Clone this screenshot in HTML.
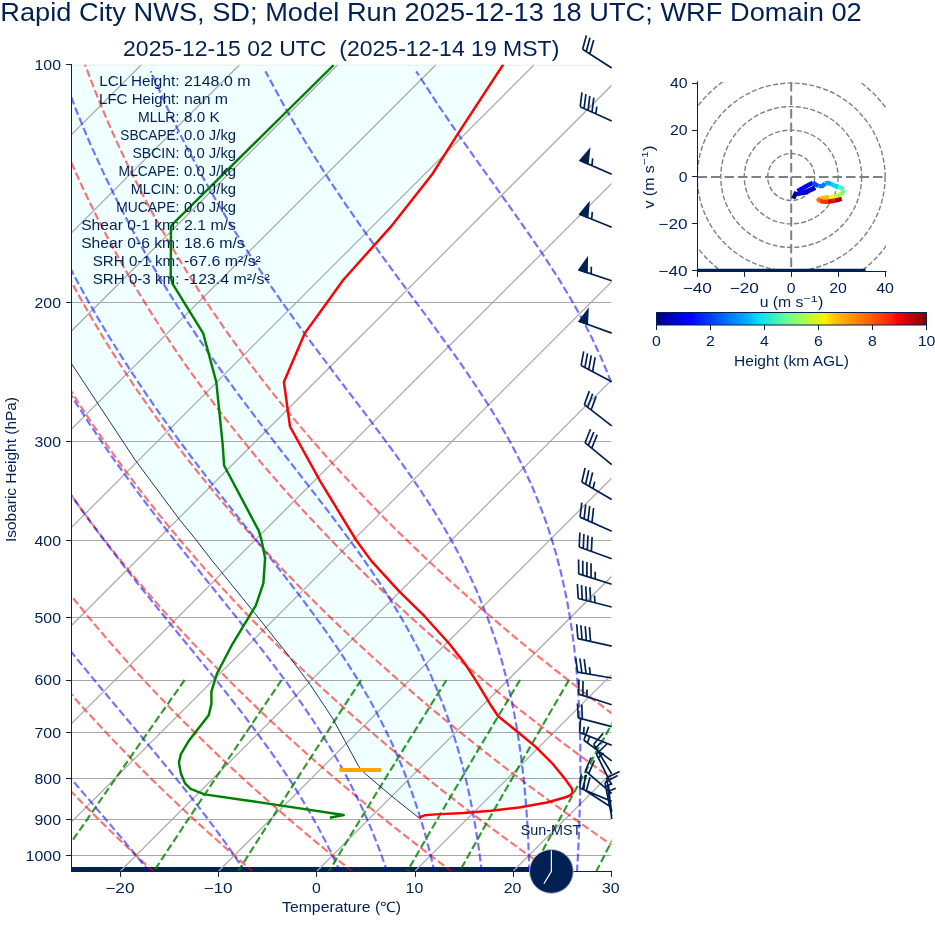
<!DOCTYPE html>
<html><head><meta charset="utf-8"><title>Skew-T</title>
<style>html,body{margin:0;padding:0;background:#fff}body{width:935px;height:936px;overflow:hidden;position:relative;font-family:"Liberation Sans",sans-serif}</style></head>
<body>
<svg width="935" height="936" viewBox="0 0 935 936" style="position:absolute;left:0;top:0;will-change:transform;font-family:'Liberation Sans',sans-serif">
<rect width="935" height="936" fill="#fff"/>
<defs><clipPath id="ax"><rect x="71.5" y="64.5" width="540.0" height="806.5"/></clipPath><linearGradient id="jet" x1="0" x2="1" y1="0" y2="0"><stop offset="0" stop-color="#000080"/><stop offset="0.11" stop-color="#0000ff"/><stop offset="0.125" stop-color="#0000ff"/><stop offset="0.34" stop-color="#00b4ff"/><stop offset="0.375" stop-color="#00e0fb"/><stop offset="0.5" stop-color="#7dff7a"/><stop offset="0.625" stop-color="#fbf100"/><stop offset="0.66" stop-color="#ffc400"/><stop offset="0.875" stop-color="#ff1e00"/><stop offset="0.89" stop-color="#ff0000"/><stop offset="1" stop-color="#800000"/></linearGradient></defs>
<g clip-path="url(#ax)">
<path d="M71.5,64.5 L503.2,64.5 L458.0,133.7 L432.4,174.0 L390.7,226.9 L343.4,279.7 L325.4,304.7 L304.7,333.4 L283.9,382.0 L290.0,426.5 L320.0,480.8 L356.0,540.0 L371.3,560.9 L399.2,591.4 L424.5,616.2 L449.5,644.0 L464.8,663.4 L477.3,682.9 L489.8,703.7 L498.2,716.3 L519.0,733.0 L535.7,746.9 L552.4,763.5 L564.9,778.8 L571.9,788.6 L572.7,792.7 L570.0,795.5 L564.9,797.5 L546.9,802.5 L519.0,807.5 L491.2,810.8 L463.4,813.0 L435.6,814.4 L424.5,815.3 L418.9,817.6 L418.9,817.8 L396.4,800.0 L380.0,786.3 L364.4,773.0 L358.8,766.6 L349.1,748.6 L332.4,718.0 L310.2,684.6 L285.1,651.2 L251.8,609.5 L211.6,560.0 L196.2,540.0 L179.6,519.7 L135.1,459.9 L71.7,364.0 L71.5,364.0Z" fill="#f0ffff"/>
<path d="M71.5,869.4 H540" stroke="#002152" stroke-width="4.8"/>
<path d="M-861.2,871.0 L-54.7,64.5 M-763.0,871.0 L43.5,64.5 M-664.9,871.0 L141.6,64.5 M-566.7,871.0 L239.8,64.5 M-468.5,871.0 L338.0,64.5 M-370.3,871.0 L436.2,64.5 M-272.1,871.0 L534.4,64.5 M-174.0,871.0 L632.5,64.5 M-75.8,871.0 L730.7,64.5 M22.4,871.0 L828.9,64.5 M120.6,871.0 L927.1,64.5 M218.8,871.0 L1025.3,64.5 M317.0,871.0 L1123.5,64.5 M415.1,871.0 L1221.6,64.5 M513.3,871.0 L1319.8,64.5 M611.5,871.0 L1418.0,64.5 M709.7,871.0 L1516.2,64.5" stroke="#ababab" stroke-width="1.25" fill="none"/>
<path d="M71.5,302.5 H611.5 M71.5,441.5 H611.5 M71.5,540.5 H611.5 M71.5,617.5 H611.5 M71.5,680.5 H611.5 M71.5,732.5 H611.5 M71.5,778.5 H611.5 M71.5,819.5 H611.5 M71.5,855.5 H611.5" stroke="#a8a8a8" stroke-width="1.15" fill="none"/>
<path d="M71.5,65 H611.5" stroke="#e6e6e6" stroke-width="1"/>
<path d="M154.2,872.3 L141.5,860.6 L129.0,848.8 L116.8,837.1 L104.8,825.4 L93.0,813.7 L81.4,802.0 L70.1,790.3 L59.0,778.6 L48.1,766.9 L37.5,755.2 L27.0,743.5 L16.8,731.8 L6.8,720.1 L-3.0,708.4 L-12.6,696.7 L-22.0,685.0 L-31.2,673.2 L-40.2,661.5 L-49.0,649.8 L-57.6,638.1 L-66.0,626.4 L-74.2,614.7 L-82.2,603.0 L-90.0,591.3 L-97.6,579.6 L-105.1,567.9 L-112.3,556.2 L-119.4,544.5 L-126.3,532.8 L-133.0,521.1 L-139.5,509.4 L-145.8,497.6 L-152.0,485.9 L-158.0,474.2 L-163.9,462.5 L-169.5,450.8 L-175.0,439.1 L-180.3,427.4 L-185.5,415.7 L-190.5,404.0 L-195.3,392.3 L-200.0,380.6 L-204.5,368.9 L-208.9,357.2 L-213.1,345.5 L-217.1,333.8 L-221.0,322.0 L-224.8,310.3 L-228.4,298.6 L-231.8,286.9 L-235.1,275.2 L-238.3,263.5 L-241.3,251.8 L-244.2,240.1 L-246.9,228.4 L-249.5,216.7 L-251.9,205.0 L-254.2,193.3 L-256.4,181.6 L-258.5,169.9 L-260.4,158.2 L-262.1,146.4 L-263.8,134.7 L-265.3,123.0 L-266.7,111.3 L-268.0,99.6 L-269.1,87.9 L-270.1,76.2 L-271.0,64.5 M253.8,872.3 L240.1,860.6 L226.7,848.8 L213.5,837.1 L200.5,825.4 L187.8,813.7 L175.4,802.0 L163.1,790.3 L151.1,778.6 L139.3,766.9 L127.8,755.2 L116.5,743.5 L105.4,731.8 L94.5,720.1 L83.8,708.4 L73.4,696.7 L63.2,685.0 L53.1,673.2 L43.3,661.5 L33.7,649.8 L24.4,638.1 L15.2,626.4 L6.2,614.7 L-2.6,603.0 L-11.2,591.3 L-19.6,579.6 L-27.8,567.9 L-35.8,556.2 L-43.6,544.5 L-51.2,532.8 L-58.6,521.1 L-65.9,509.4 L-72.9,497.6 L-79.8,485.9 L-86.5,474.2 L-93.0,462.5 L-99.4,450.8 L-105.6,439.1 L-111.6,427.4 L-117.4,415.7 L-123.1,404.0 L-128.5,392.3 L-133.9,380.6 L-139.0,368.9 L-144.0,357.2 L-148.8,345.5 L-153.5,333.8 L-158.0,322.0 L-162.4,310.3 L-166.6,298.6 L-170.6,286.9 L-174.5,275.2 L-178.3,263.5 L-181.9,251.8 L-185.3,240.1 L-188.6,228.4 L-191.8,216.7 L-194.8,205.0 L-197.6,193.3 L-200.4,181.6 L-202.9,169.9 L-205.4,158.2 L-207.7,146.4 L-209.9,134.7 L-211.9,123.0 L-213.8,111.3 L-215.6,99.6 L-217.2,87.9 L-218.8,76.2 L-220.1,64.5 M353.3,872.3 L338.7,860.6 L324.3,848.8 L310.2,837.1 L296.3,825.4 L282.7,813.7 L269.3,802.0 L256.1,790.3 L243.2,778.6 L230.5,766.9 L218.1,755.2 L205.9,743.5 L194.0,731.8 L182.2,720.1 L170.7,708.4 L159.4,696.7 L148.4,685.0 L137.5,673.2 L126.9,661.5 L116.5,649.8 L106.3,638.1 L96.3,626.4 L86.5,614.7 L77.0,603.0 L67.6,591.3 L58.5,579.6 L49.5,567.9 L40.8,556.2 L32.2,544.5 L23.9,532.8 L15.7,521.1 L7.7,509.4 L-0.0,497.6 L-7.6,485.9 L-15.0,474.2 L-22.2,462.5 L-29.3,450.8 L-36.1,439.1 L-42.8,427.4 L-49.3,415.7 L-55.6,404.0 L-61.7,392.3 L-67.7,380.6 L-73.5,368.9 L-79.1,357.2 L-84.6,345.5 L-89.9,333.8 L-95.0,322.0 L-100.0,310.3 L-104.8,298.6 L-109.4,286.9 L-113.9,275.2 L-118.3,263.5 L-122.4,251.8 L-126.5,240.1 L-130.3,228.4 L-134.0,216.7 L-137.6,205.0 L-141.0,193.3 L-144.3,181.6 L-147.4,169.9 L-150.4,158.2 L-153.3,146.4 L-156.0,134.7 L-158.5,123.0 L-160.9,111.3 L-163.2,99.6 L-165.4,87.9 L-167.4,76.2 L-169.3,64.5 M452.9,872.3 L437.3,860.6 L422.0,848.8 L406.9,837.1 L392.1,825.4 L377.5,813.7 L363.2,802.0 L349.1,790.3 L335.3,778.6 L321.8,766.9 L308.4,755.2 L295.4,743.5 L282.5,731.8 L269.9,720.1 L257.6,708.4 L245.5,696.7 L233.6,685.0 L221.9,673.2 L210.5,661.5 L199.2,649.8 L188.2,638.1 L177.5,626.4 L166.9,614.7 L156.6,603.0 L146.4,591.3 L136.5,579.6 L126.8,567.9 L117.3,556.2 L108.0,544.5 L98.9,532.8 L90.1,521.1 L81.4,509.4 L72.9,497.6 L64.6,485.9 L56.5,474.2 L48.6,462.5 L40.9,450.8 L33.3,439.1 L26.0,427.4 L18.8,415.7 L11.8,404.0 L5.0,392.3 L-1.6,380.6 L-8.0,368.9 L-14.3,357.2 L-20.4,345.5 L-26.3,333.8 L-32.0,322.0 L-37.6,310.3 L-43.0,298.6 L-48.3,286.9 L-53.3,275.2 L-58.3,263.5 L-63.0,251.8 L-67.6,240.1 L-72.0,228.4 L-76.3,216.7 L-80.5,205.0 L-84.4,193.3 L-88.3,181.6 L-91.9,169.9 L-95.4,158.2 L-98.8,146.4 L-102.0,134.7 L-105.1,123.0 L-108.1,111.3 L-110.9,99.6 L-113.5,87.9 L-116.0,76.2 L-118.4,64.5 M552.5,872.3 L535.9,860.6 L519.6,848.8 L503.6,837.1 L487.8,825.4 L472.3,813.7 L457.1,802.0 L442.1,790.3 L427.4,778.6 L413.0,766.9 L398.8,755.2 L384.8,743.5 L371.1,731.8 L357.7,720.1 L344.5,708.4 L331.5,696.7 L318.8,685.0 L306.3,673.2 L294.0,661.5 L282.0,649.8 L270.2,638.1 L258.6,626.4 L247.3,614.7 L236.2,603.0 L225.3,591.3 L214.6,579.6 L204.1,567.9 L193.9,556.2 L183.8,544.5 L174.0,532.8 L164.4,521.1 L155.0,509.4 L145.8,497.6 L136.8,485.9 L128.0,474.2 L119.4,462.5 L111.0,450.8 L102.8,439.1 L94.7,427.4 L86.9,415.7 L79.3,404.0 L71.8,392.3 L64.6,380.6 L57.5,368.9 L50.6,357.2 L43.9,345.5 L37.3,333.8 L31.0,322.0 L24.8,310.3 L18.8,298.6 L12.9,286.9 L7.3,275.2 L1.8,263.5 L-3.6,251.8 L-8.8,240.1 L-13.8,228.4 L-18.6,216.7 L-23.3,205.0 L-27.8,193.3 L-32.2,181.6 L-36.4,169.9 L-40.5,158.2 L-44.4,146.4 L-48.1,134.7 L-51.7,123.0 L-55.2,111.3 L-58.5,99.6 L-61.7,87.9 L-64.7,76.2 L-67.6,64.5 M652.0,872.3 L634.5,860.6 L617.2,848.8 L600.3,837.1 L583.6,825.4 L567.1,813.7 L551.0,802.0 L535.1,790.3 L519.5,778.6 L504.2,766.9 L489.1,755.2 L474.3,743.5 L459.7,731.8 L445.4,720.1 L431.3,708.4 L417.5,696.7 L404.0,685.0 L390.6,673.2 L377.6,661.5 L364.7,649.8 L352.1,638.1 L339.8,626.4 L327.6,614.7 L315.7,603.0 L304.1,591.3 L292.6,579.6 L281.4,567.9 L270.4,556.2 L259.6,544.5 L249.1,532.8 L238.7,521.1 L228.6,509.4 L218.7,497.6 L209.0,485.9 L199.5,474.2 L190.2,462.5 L181.1,450.8 L172.2,439.1 L163.5,427.4 L155.0,415.7 L146.7,404.0 L138.6,392.3 L130.7,380.6 L123.0,368.9 L115.5,357.2 L108.1,345.5 L101.0,333.8 L94.0,322.0 L87.2,310.3 L80.6,298.6 L74.1,286.9 L67.9,275.2 L61.8,263.5 L55.8,251.8 L50.1,240.1 L44.5,228.4 L39.1,216.7 L33.9,205.0 L28.8,193.3 L23.9,181.6 L19.1,169.9 L14.5,158.2 L10.1,146.4 L5.8,134.7 L1.7,123.0 L-2.3,111.3 L-6.1,99.6 L-9.8,87.9 L-13.3,76.2 L-16.7,64.5 M751.6,872.3 L733.1,860.6 L714.9,848.8 L697.0,837.1 L679.3,825.4 L662.0,813.7 L644.9,802.0 L628.1,790.3 L611.6,778.6 L595.4,766.9 L579.4,755.2 L563.7,743.5 L548.3,731.8 L533.1,720.1 L518.2,708.4 L503.6,696.7 L489.2,685.0 L475.0,673.2 L461.1,661.5 L447.5,649.8 L434.1,638.1 L420.9,626.4 L408.0,614.7 L395.3,603.0 L382.9,591.3 L370.7,579.6 L358.7,567.9 L347.0,556.2 L335.4,544.5 L324.2,532.8 L313.1,521.1 L302.2,509.4 L291.6,497.6 L281.2,485.9 L271.0,474.2 L261.0,462.5 L251.2,450.8 L241.7,439.1 L232.3,427.4 L223.1,415.7 L214.2,404.0 L205.4,392.3 L196.9,380.6 L188.5,368.9 L180.3,357.2 L172.4,345.5 L164.6,333.8 L157.0,322.0 L149.6,310.3 L142.3,298.6 L135.3,286.9 L128.4,275.2 L121.8,263.5 L115.3,251.8 L108.9,240.1 L102.8,228.4 L96.8,216.7 L91.0,205.0 L85.4,193.3 L79.9,181.6 L74.6,169.9 L69.5,158.2 L64.5,146.4 L59.7,134.7 L55.0,123.0 L50.5,111.3 L46.2,99.6 L42.0,87.9 L38.0,76.2 L34.1,64.5 M851.1,872.3 L831.7,860.6 L812.5,848.8 L793.6,837.1 L775.1,825.4 L756.8,813.7 L738.8,802.0 L721.1,790.3 L703.7,778.6 L686.6,766.9 L669.7,755.2 L653.2,743.5 L636.9,731.8 L620.8,720.1 L605.1,708.4 L589.6,696.7 L574.4,685.0 L559.4,673.2 L544.7,661.5 L530.2,649.8 L516.0,638.1 L502.1,626.4 L488.4,614.7 L474.9,603.0 L461.7,591.3 L448.7,579.6 L436.0,567.9 L423.5,556.2 L411.3,544.5 L399.2,532.8 L387.4,521.1 L375.9,509.4 L364.5,497.6 L353.4,485.9 L342.5,474.2 L331.8,462.5 L321.3,450.8 L311.1,439.1 L301.1,427.4 L291.2,415.7 L281.6,404.0 L272.2,392.3 L263.0,380.6 L254.0,368.9 L245.2,357.2 L236.6,345.5 L228.2,333.8 L220.0,322.0 L212.0,310.3 L204.1,298.6 L196.5,286.9 L189.0,275.2 L181.8,263.5 L174.7,251.8 L167.8,240.1 L161.1,228.4 L154.5,216.7 L148.2,205.0 L142.0,193.3 L136.0,181.6 L130.1,169.9 L124.5,158.2 L118.9,146.4 L113.6,134.7 L108.4,123.0 L103.4,111.3 L98.6,99.6 L93.9,87.9 L89.4,76.2 L85.0,64.5" stroke="#ff0000" stroke-opacity="0.55" stroke-width="2.2" stroke-dasharray="7.7,3.3" fill="none"/>
<path d="M149.7,872.3 L146.5,868.3 L143.3,864.3 L140.0,860.3 L136.7,856.2 L133.2,852.0 L129.8,847.9 L126.2,843.6 L122.7,839.3 L119.0,835.0 L115.3,830.6 L111.5,826.1 L107.7,821.6 L103.8,817.0 L99.9,812.4 L95.8,807.7 L91.8,802.9 L87.6,798.0 L83.4,793.1 L79.2,788.2 L74.8,783.1 L70.5,778.0 L66.0,772.8 L61.5,767.5 L57.0,762.1 L52.3,756.7 L47.7,751.1 L42.9,745.5 L38.1,739.8 L33.3,734.0 L28.4,728.0 L23.4,722.0 L18.4,715.9 L13.3,709.6 L8.2,703.3 L3.0,696.8 L-2.3,690.2 L-7.6,683.4 L-12.9,676.6 L-18.3,669.6 L-23.8,662.4 L-29.3,655.1 L-34.9,647.6 L-40.5,640.0 L-46.2,632.2 L-51.9,624.2 L-57.7,616.0 L-63.5,607.6 L-69.4,599.0 L-75.3,590.2 L-81.3,581.2 L-87.3,571.9 L-93.4,562.4 L-99.5,552.5 L-105.7,542.4 L-111.9,532.0 L-118.2,521.3 L-124.5,510.2 L-130.8,498.8 L-137.2,486.9 L-143.7,474.6 L-150.2,461.9 L-156.7,448.7 L-163.2,435.0 L-169.8,420.6 L-176.4,405.7 L-183.0,390.1 L-189.7,373.7 L-196.3,356.5 L-202.9,338.5 L-209.5,319.4 L-216.0,299.2 L-222.4,277.7 L-228.8,254.8 L-234.9,230.2 L-240.9,203.8 L-246.5,175.1 L-251.8,143.9 L-256.5,109.5 L-260.4,71.3 M245.5,872.3 L242.9,868.3 L240.3,864.3 L237.5,860.3 L234.7,856.2 L231.9,852.0 L229.0,847.9 L226.0,843.6 L222.9,839.3 L219.7,835.0 L216.5,830.6 L213.2,826.1 L209.8,821.6 L206.4,817.0 L202.8,812.4 L199.2,807.7 L195.5,802.9 L191.7,798.0 L187.8,793.1 L183.9,788.2 L179.8,783.1 L175.7,778.0 L171.4,772.8 L167.1,767.5 L162.7,762.1 L158.2,756.7 L153.6,751.1 L148.9,745.5 L144.1,739.8 L139.3,734.0 L134.3,728.0 L129.3,722.0 L124.1,715.9 L118.9,709.6 L113.6,703.3 L108.2,696.8 L102.7,690.2 L97.1,683.4 L91.4,676.6 L85.7,669.6 L79.8,662.4 L73.9,655.1 L67.9,647.6 L61.8,640.0 L55.7,632.2 L49.4,624.2 L43.1,616.0 L36.7,607.6 L30.2,599.0 L23.6,590.2 L17.0,581.2 L10.3,571.9 L3.5,562.4 L-3.4,552.5 L-10.3,542.4 L-17.3,532.0 L-24.4,521.3 L-31.5,510.2 L-38.7,498.8 L-46.0,486.9 L-53.4,474.6 L-60.8,461.9 L-68.3,448.7 L-75.8,435.0 L-83.4,420.6 L-91.1,405.7 L-98.8,390.1 L-106.6,373.7 L-114.4,356.5 L-122.2,338.5 L-130.1,319.4 L-137.9,299.2 L-145.7,277.7 L-153.5,254.8 L-161.2,230.2 L-168.8,203.8 L-176.1,175.1 L-183.2,143.9 L-189.8,109.5 L-195.8,71.3 M340.2,872.3 L338.4,868.3 L336.6,864.3 L334.7,860.3 L332.8,856.2 L330.8,852.0 L328.7,847.9 L326.6,843.6 L324.4,839.3 L322.1,835.0 L319.8,830.6 L317.4,826.1 L314.9,821.6 L312.3,817.0 L309.7,812.4 L307.0,807.7 L304.1,802.9 L301.2,798.0 L298.2,793.1 L295.1,788.2 L291.9,783.1 L288.6,778.0 L285.1,772.8 L281.6,767.5 L277.9,762.1 L274.2,756.7 L270.3,751.1 L266.3,745.5 L262.1,739.8 L257.9,734.0 L253.5,728.0 L248.9,722.0 L244.3,715.9 L239.5,709.6 L234.5,703.3 L229.4,696.8 L224.2,690.2 L218.8,683.4 L213.3,676.6 L207.6,669.6 L201.8,662.4 L195.9,655.1 L189.8,647.6 L183.5,640.0 L177.1,632.2 L170.6,624.2 L164.0,616.0 L157.1,607.6 L150.2,599.0 L143.1,590.2 L135.9,581.2 L128.6,571.9 L121.1,562.4 L113.5,552.5 L105.8,542.4 L98.0,532.0 L90.0,521.3 L82.0,510.2 L73.8,498.8 L65.5,486.9 L57.1,474.6 L48.5,461.9 L39.9,448.7 L31.2,435.0 L22.3,420.6 L13.4,405.7 L4.3,390.1 L-4.8,373.7 L-14.1,356.5 L-23.4,338.5 L-32.8,319.4 L-42.2,299.2 L-51.8,277.7 L-61.3,254.8 L-70.9,230.2 L-80.4,203.8 L-89.8,175.1 L-99.1,143.9 L-108.1,109.5 L-116.6,71.3 M387.3,872.3 L386.0,868.3 L384.7,864.3 L383.2,860.3 L381.8,856.2 L380.3,852.0 L378.7,847.9 L377.1,843.6 L375.4,839.3 L373.7,835.0 L371.9,830.6 L370.1,826.1 L368.1,821.6 L366.1,817.0 L364.1,812.4 L361.9,807.7 L359.7,802.9 L357.4,798.0 L355.0,793.1 L352.5,788.2 L349.9,783.1 L347.3,778.0 L344.5,772.8 L341.6,767.5 L338.6,762.1 L335.5,756.7 L332.2,751.1 L328.9,745.5 L325.4,739.8 L321.8,734.0 L318.0,728.0 L314.1,722.0 L310.0,715.9 L305.8,709.6 L301.5,703.3 L296.9,696.8 L292.2,690.2 L287.4,683.4 L282.3,676.6 L277.1,669.6 L271.7,662.4 L266.1,655.1 L260.3,647.6 L254.4,640.0 L248.2,632.2 L241.9,624.2 L235.4,616.0 L228.6,607.6 L221.7,599.0 L214.6,590.2 L207.3,581.2 L199.9,571.9 L192.2,562.4 L184.4,552.5 L176.4,542.4 L168.2,532.0 L159.8,521.3 L151.3,510.2 L142.7,498.8 L133.8,486.9 L124.9,474.6 L115.7,461.9 L106.4,448.7 L97.0,435.0 L87.4,420.6 L77.7,405.7 L67.9,390.1 L57.9,373.7 L47.8,356.5 L37.6,338.5 L27.2,319.4 L16.8,299.2 L6.2,277.7 L-4.4,254.8 L-15.1,230.2 L-25.9,203.8 L-36.6,175.1 L-47.2,143.9 L-57.7,109.5 L-67.8,71.3 M434.5,872.3 L433.6,868.3 L432.7,864.3 L431.8,860.3 L430.8,856.2 L429.8,852.0 L428.7,847.9 L427.6,843.6 L426.5,839.3 L425.3,835.0 L424.1,830.6 L422.8,826.1 L421.4,821.6 L420.0,817.0 L418.6,812.4 L417.1,807.7 L415.5,802.9 L413.8,798.0 L412.1,793.1 L410.3,788.2 L408.5,783.1 L406.5,778.0 L404.5,772.8 L402.4,767.5 L400.1,762.1 L397.8,756.7 L395.4,751.1 L392.9,745.5 L390.2,739.8 L387.4,734.0 L384.5,728.0 L381.5,722.0 L378.3,715.9 L375.0,709.6 L371.5,703.3 L367.9,696.8 L364.0,690.2 L360.1,683.4 L355.9,676.6 L351.5,669.6 L346.9,662.4 L342.1,655.1 L337.1,647.6 L331.9,640.0 L326.4,632.2 L320.7,624.2 L314.8,616.0 L308.6,607.6 L302.2,599.0 L295.5,590.2 L288.5,581.2 L281.3,571.9 L273.8,562.4 L266.0,552.5 L258.0,542.4 L249.8,532.0 L241.3,521.3 L232.5,510.2 L223.5,498.8 L214.3,486.9 L204.8,474.6 L195.1,461.9 L185.2,448.7 L175.1,435.0 L164.7,420.6 L154.2,405.7 L143.5,390.1 L132.6,373.7 L121.5,356.5 L110.2,338.5 L98.7,319.4 L87.1,299.2 L75.3,277.7 L63.4,254.8 L51.3,230.2 L39.1,203.8 L26.9,175.1 L14.6,143.9 L2.4,109.5 L-9.6,71.3 M481.8,872.3 L481.4,868.3 L480.9,864.3 L480.4,860.3 L479.8,856.2 L479.3,852.0 L478.7,847.9 L478.1,843.6 L477.4,839.3 L476.7,835.0 L476.0,830.6 L475.3,826.1 L474.5,821.6 L473.7,817.0 L472.8,812.4 L471.9,807.7 L471.0,802.9 L470.0,798.0 L469.0,793.1 L467.9,788.2 L466.7,783.1 L465.5,778.0 L464.2,772.8 L462.9,767.5 L461.5,762.1 L460.0,756.7 L458.5,751.1 L456.8,745.5 L455.1,739.8 L453.3,734.0 L451.3,728.0 L449.3,722.0 L447.1,715.9 L444.9,709.6 L442.5,703.3 L439.9,696.8 L437.3,690.2 L434.4,683.4 L431.4,676.6 L428.3,669.6 L424.9,662.4 L421.4,655.1 L417.6,647.6 L413.6,640.0 L409.4,632.2 L405.0,624.2 L400.2,616.0 L395.2,607.6 L389.9,599.0 L384.3,590.2 L378.4,581.2 L372.2,571.9 L365.6,562.4 L358.7,552.5 L351.4,542.4 L343.7,532.0 L335.7,521.3 L327.3,510.2 L318.5,498.8 L309.3,486.9 L299.8,474.6 L289.9,461.9 L279.6,448.7 L269.0,435.0 L258.1,420.6 L246.8,405.7 L235.2,390.1 L223.3,373.7 L211.1,356.5 L198.7,338.5 L185.9,319.4 L172.9,299.2 L159.7,277.7 L146.2,254.8 L132.5,230.2 L118.6,203.8 L104.5,175.1 L90.2,143.9 L75.9,109.5 L61.6,71.3 M529.3,872.3 L529.2,868.3 L529.1,864.3 L529.0,860.3 L528.8,856.2 L528.7,852.0 L528.5,847.9 L528.4,843.6 L528.2,839.3 L527.9,835.0 L527.7,830.6 L527.5,826.1 L527.2,821.6 L526.9,817.0 L526.6,812.4 L526.2,807.7 L525.9,802.9 L525.5,798.0 L525.0,793.1 L524.6,788.2 L524.1,783.1 L523.6,778.0 L523.0,772.8 L522.4,767.5 L521.7,762.1 L521.1,756.7 L520.3,751.1 L519.5,745.5 L518.7,739.8 L517.7,734.0 L516.8,728.0 L515.7,722.0 L514.6,715.9 L513.4,709.6 L512.1,703.3 L510.7,696.8 L509.2,690.2 L507.7,683.4 L505.9,676.6 L504.1,669.6 L502.2,662.4 L500.1,655.1 L497.8,647.6 L495.4,640.0 L492.7,632.2 L489.9,624.2 L486.9,616.0 L483.6,607.6 L480.1,599.0 L476.4,590.2 L472.3,581.2 L467.9,571.9 L463.1,562.4 L458.0,552.5 L452.5,542.4 L446.6,532.0 L440.3,521.3 L433.4,510.2 L426.1,498.8 L418.2,486.9 L409.8,474.6 L400.8,461.9 L391.2,448.7 L381.1,435.0 L370.4,420.6 L359.1,405.7 L347.2,390.1 L334.7,373.7 L321.8,356.5 L308.3,338.5 L294.3,319.4 L279.9,299.2 L265.0,277.7 L249.8,254.8 L234.1,230.2 L218.0,203.8 L201.6,175.1 L184.9,143.9 L168.0,109.5 L150.8,71.3 M577.0,872.3 L577.2,868.3 L577.4,864.3 L577.7,860.3 L577.9,856.2 L578.1,852.0 L578.3,847.9 L578.5,843.6 L578.7,839.3 L578.9,835.0 L579.0,830.6 L579.2,826.1 L579.4,821.6 L579.5,817.0 L579.7,812.4 L579.8,807.7 L579.9,802.9 L580.0,798.0 L580.1,793.1 L580.2,788.2 L580.3,783.1 L580.3,778.0 L580.4,772.8 L580.4,767.5 L580.4,762.1 L580.4,756.7 L580.3,751.1 L580.3,745.5 L580.2,739.8 L580.0,734.0 L579.9,728.0 L579.7,722.0 L579.4,715.9 L579.2,709.6 L578.9,703.3 L578.5,696.8 L578.1,690.2 L577.6,683.4 L577.1,676.6 L576.5,669.6 L575.8,662.4 L575.0,655.1 L574.2,647.6 L573.2,640.0 L572.2,632.2 L571.0,624.2 L569.7,616.0 L568.3,607.6 L566.7,599.0 L564.9,590.2 L562.9,581.2 L560.8,571.9 L558.3,562.4 L555.7,552.5 L552.7,542.4 L549.4,532.0 L545.8,521.3 L541.7,510.2 L537.2,498.8 L532.3,486.9 L526.7,474.6 L520.6,461.9 L513.8,448.7 L506.3,435.0 L498.0,420.6 L488.8,405.7 L478.7,390.1 L467.7,373.7 L455.7,356.5 L442.7,338.5 L428.8,319.4 L413.8,299.2 L397.9,277.7 L381.2,254.8 L363.6,230.2 L345.2,203.8 L326.2,175.1 L306.5,143.9 L286.2,109.5 L265.4,71.3 M624.9,872.3 L625.4,868.3 L625.9,864.3 L626.4,860.3 L626.9,856.2 L627.4,852.0 L627.9,847.9 L628.4,843.6 L628.9,839.3 L629.4,835.0 L630.0,830.6 L630.5,826.1 L631.0,821.6 L631.5,817.0 L632.0,812.4 L632.6,807.7 L633.1,802.9 L633.6,798.0 L634.1,793.1 L634.7,788.2 L635.2,783.1 L635.7,778.0 L636.2,772.8 L636.8,767.5 L637.3,762.1 L637.8,756.7 L638.3,751.1 L638.8,745.5 L639.3,739.8 L639.8,734.0 L640.3,728.0 L640.8,722.0 L641.3,715.9 L641.8,709.6 L642.2,703.3 L642.7,696.8 L643.1,690.2 L643.5,683.4 L643.9,676.6 L644.3,669.6 L644.6,662.4 L645.0,655.1 L645.2,647.6 L645.5,640.0 L645.7,632.2 L645.9,624.2 L646.0,616.0 L646.1,607.6 L646.0,599.0 L646.0,590.2 L645.8,581.2 L645.5,571.9 L645.2,562.4 L644.7,552.5 L644.1,542.4 L643.3,532.0 L642.3,521.3 L641.2,510.2 L639.8,498.8 L638.1,486.9 L636.1,474.6 L633.7,461.9 L630.9,448.7 L627.7,435.0 L623.8,420.6 L619.3,405.7 L614.0,390.1 L607.8,373.7 L600.6,356.5 L592.2,338.5 L582.4,319.4 L571.0,299.2 L558.0,277.7 L543.1,254.8 L526.3,230.2 L507.7,203.8 L487.2,175.1 L464.9,143.9 L441.2,109.5 L416.1,71.3" stroke="#0000ff" stroke-opacity="0.55" stroke-width="2.2" stroke-dasharray="7.7,3.3" fill="none"/>
<path d="M184.6,680.0 L178.5,688.8 L172.4,697.3 L166.6,705.7 L160.8,713.8 L155.2,721.8 L149.8,729.6 L144.5,737.2 L139.2,744.6 L134.1,751.9 L129.2,759.0 L124.3,766.0 L119.5,772.9 L114.8,779.6 L110.2,786.2 L105.7,792.6 L101.3,799.0 L97.0,805.2 L92.7,811.3 L88.6,817.3 L84.5,823.2 L80.5,829.0 L76.5,834.7 L72.6,840.4 L68.8,845.9 L65.0,851.3 L61.3,856.7 L57.7,862.0 L54.1,867.1 L50.6,872.3 M281.6,680.0 L275.7,688.8 L269.9,697.3 L264.2,705.7 L258.7,713.8 L253.4,721.8 L248.2,729.6 L243.0,737.2 L238.0,744.6 L233.2,751.9 L228.4,759.0 L223.7,766.0 L219.1,772.9 L214.7,779.6 L210.3,786.2 L206.0,792.6 L201.7,799.0 L197.6,805.2 L193.5,811.3 L189.5,817.3 L185.6,823.2 L181.8,829.0 L178.0,834.7 L174.3,840.4 L170.6,845.9 L167.0,851.3 L163.5,856.7 L160.0,862.0 L156.6,867.1 L153.2,872.3 M361.1,680.0 L355.4,688.8 L349.8,697.3 L344.4,705.7 L339.1,713.8 L333.9,721.8 L328.9,729.6 L323.9,737.2 L319.1,744.6 L314.4,751.9 L309.8,759.0 L305.3,766.0 L300.9,772.9 L296.6,779.6 L292.4,786.2 L288.2,792.6 L284.2,799.0 L280.2,805.2 L276.3,811.3 L272.5,817.3 L268.7,823.2 L265.0,829.0 L261.4,834.7 L257.8,840.4 L254.3,845.9 L250.8,851.3 L247.4,856.7 L244.1,862.0 L240.8,867.1 L237.6,872.3 M446.5,680.0 L441.0,688.8 L435.6,697.3 L430.4,705.7 L425.4,713.8 L420.4,721.8 L415.6,729.6 L410.9,737.2 L406.3,744.6 L401.8,751.9 L397.4,759.0 L393.1,766.0 L388.8,772.9 L384.7,779.6 L380.7,786.2 L376.7,792.6 L372.8,799.0 L369.0,805.2 L365.3,811.3 L361.6,817.3 L358.0,823.2 L354.5,829.0 L351.0,834.7 L347.6,840.4 L344.3,845.9 L341.0,851.3 L337.8,856.7 L334.6,862.0 L331.5,867.1 L328.4,872.3 M520.0,680.0 L514.7,688.8 L509.6,697.3 L504.6,705.7 L499.7,713.8 L494.9,721.8 L490.3,729.6 L485.8,737.2 L481.3,744.6 L477.0,751.9 L472.8,759.0 L468.7,766.0 L464.6,772.9 L460.7,779.6 L456.8,786.2 L453.0,792.6 L449.3,799.0 L445.6,805.2 L442.1,811.3 L438.6,817.3 L435.1,823.2 L431.7,829.0 L428.4,834.7 L425.1,840.4 L421.9,845.9 L418.8,851.3 L415.7,856.7 L412.7,862.0 L409.7,867.1 L406.7,872.3 M569.0,680.0 L563.9,688.8 L558.9,697.3 L554.1,705.7 L549.3,713.8 L544.7,721.8 L540.2,729.6 L535.8,737.2 L531.5,744.6 L527.3,751.9 L523.2,759.0 L519.2,766.0 L515.3,772.9 L511.4,779.6 L507.7,786.2 L504.0,792.6 L500.4,799.0 L496.8,805.2 L493.4,811.3 L490.0,817.3 L486.6,823.2 L483.3,829.0 L480.1,834.7 L477.0,840.4 L473.9,845.9 L470.8,851.3 L467.8,856.7 L464.9,862.0 L462.0,867.1 L459.1,872.3 M636.4,680.0 L631.5,688.8 L626.7,697.3 L622.0,705.7 L617.4,713.8 L613.0,721.8 L608.7,729.6 L604.5,737.2 L600.3,744.6 L596.3,751.9 L592.4,759.0 L588.6,766.0 L584.8,772.9 L581.1,779.6 L577.5,786.2 L574.0,792.6 L570.5,799.0 L567.2,805.2 L563.8,811.3 L560.6,817.3 L557.4,823.2 L554.3,829.0 L551.2,834.7 L548.2,840.4 L545.2,845.9 L542.3,851.3 L539.4,856.7 L536.6,862.0 L533.8,867.1 L531.1,872.3 M696.8,680.0 L692.1,688.8 L687.5,697.3 L683.0,705.7 L678.6,713.8 L674.4,721.8 L670.2,729.6 L666.2,737.2 L662.2,744.6 L658.3,751.9 L654.6,759.0 L650.9,766.0 L647.3,772.9 L643.7,779.6 L640.3,786.2 L636.9,792.6 L633.6,799.0 L630.4,805.2 L627.2,811.3 L624.1,817.3 L621.0,823.2 L618.0,829.0 L615.1,834.7 L612.2,840.4 L609.3,845.9 L606.5,851.3 L603.8,856.7 L601.1,862.0 L598.5,867.1 L595.9,872.3 M741.0,680.0 L736.4,688.8 L731.9,697.3 L727.5,705.7 L723.3,713.8 L719.1,721.8 L715.1,729.6 L711.2,737.2 L707.4,744.6 L703.6,751.9 L700.0,759.0 L696.4,766.0 L692.9,772.9 L689.5,779.6 L686.1,786.2 L682.9,792.6 L679.7,799.0 L676.5,805.2 L673.5,811.3 L670.4,817.3 L667.5,823.2 L664.6,829.0 L661.7,834.7 L658.9,840.4 L656.2,845.9 L653.5,851.3 L650.9,856.7 L648.3,862.0 L645.7,867.1 L643.2,872.3" stroke="#008000" stroke-opacity="0.8" stroke-width="2.2" stroke-dasharray="7.7,3.3" fill="none"/>
<path d="M71.7,364.0 L135.1,459.9 L179.6,519.7 L196.2,540.0 L211.6,560.0 L251.8,609.5 L285.1,651.2 L310.2,684.6 L332.4,718.0 L349.1,748.6 L358.8,766.6 L364.4,773.0 L380.0,786.3 L396.4,800.0 L418.9,817.8" stroke="#002152" stroke-width="0.9" fill="none"/>
<path d="M503.2,64.5 L458.0,133.7 L432.4,174.0 L390.7,226.9 L343.4,279.7 L325.4,304.7 L304.7,333.4 L283.9,382.0 L290.0,426.5 L320.0,480.8 L356.0,540.0 L371.3,560.9 L399.2,591.4 L424.5,616.2 L449.5,644.0 L464.8,663.4 L477.3,682.9 L489.8,703.7 L498.2,716.3 L519.0,733.0 L535.7,746.9 L552.4,763.5 L564.9,778.8 L571.9,788.6 L572.7,792.7 L570.0,795.5 L564.9,797.5 L546.9,802.5 L519.0,807.5 L491.2,810.8 L463.4,813.0 L435.6,814.4 L424.5,815.3 L418.9,817.6" stroke="#ff0000" stroke-width="2.45" fill="none" stroke-linejoin="round"/>
<path d="M333.7,65.0 L260.0,137.9 L172.6,224.1 L171.0,226.5 L170.7,276.9 L172.6,283.9 L203.2,333.4 L216.3,382.0 L222.7,444.6 L224.1,465.5 L258.8,530.8 L261.5,540.0 L265.1,558.1 L263.4,583.1 L255.9,605.4 L232.3,644.3 L217.0,673.5 L211.4,691.6 L211.4,704.1 L208.7,715.2 L189.2,740.2 L180.9,754.1 L178.9,762.5 L180.9,773.6 L185.0,783.3 L190.6,788.9 L204.5,794.4 L243.4,800.0 L270.0,803.9 L343.7,815.0 L329.8,817.8" stroke="#008000" stroke-width="2.45" fill="none" stroke-linejoin="round"/>
<path d="M339.4,770 H381.1" stroke="#ffa500" stroke-width="4"/>
</g>
<path d="M71.5,64.0 V872.0 M71.0,871.5 H612.0" stroke="#002152" stroke-width="1" fill="none"/>
<path d="M120.5,872.0 v4.9 M218.5,872.0 v4.9 M316.5,872.0 v4.9 M415.5,872.0 v4.9 M513.5,872.0 v4.9 M611.5,872.0 v4.9 M71.0,64.5 h-4.9 M71.0,302.5 h-4.9 M71.0,441.5 h-4.9 M71.0,540.5 h-4.9 M71.0,617.5 h-4.9 M71.0,680.5 h-4.9 M71.0,732.5 h-4.9 M71.0,778.5 h-4.9 M71.0,819.5 h-4.9 M71.0,855.5 h-4.9" stroke="#002152" stroke-width="1" fill="none"/>
<path d="M611.7,68.0 L582.6,49.3 M582.6,49.3 L586.4,35.4 M586.2,51.7 L590.0,37.7 M589.8,54.0 L593.7,40.0 M611.7,121.0 L580.2,106.7 M580.2,106.7 L582.0,92.3 M584.1,108.5 L585.9,94.1 M588.1,110.3 L589.8,95.9 M592.0,112.1 L593.8,97.7 M595.9,113.9 L596.8,106.7 M611.7,174.3 L580.0,160.4 M591.9,165.6 L592.7,158.4 M611.7,227.3 L579.7,214.2 M591.7,219.1 L592.3,211.9 M611.7,280.8 L578.9,269.9 M591.2,274.0 L591.3,266.7 M611.7,333.1 L579.2,321.3 M611.7,381.7 L581.1,365.6 M581.1,365.6 L583.7,351.4 M584.9,367.6 L587.5,353.4 M588.7,369.6 L591.3,355.4 M592.6,371.7 L595.1,357.4 M611.7,425.8 L584.3,404.7 M584.3,404.7 L589.3,391.1 M587.7,407.3 L592.7,393.7 M591.1,410.0 L596.1,396.4 M611.7,464.7 L585.0,442.7 M585.0,442.7 L590.5,429.2 M588.4,445.4 L593.8,432.0 M591.7,448.2 L597.2,434.7 M611.7,499.6 L581.8,482.1 M581.8,482.1 L585.1,468.0 M585.6,484.3 L588.8,470.2 M589.3,486.5 L592.6,472.4 M593.0,488.7 L594.7,481.6 M611.7,531.2 L580.1,517.1 M580.1,517.1 L581.8,502.7 M584.1,518.9 L585.7,504.5 M588.0,520.6 L589.7,506.2 M592.0,522.4 L593.6,508.0 M611.7,558.8 L579.2,547.0 M579.2,547.0 L579.9,532.5 M583.3,548.4 L583.9,534.0 M587.3,549.9 L588.0,535.4 M591.4,551.4 L592.1,536.9 M611.7,584.2 L578.7,573.9 M578.7,573.9 L578.6,559.4 M582.8,575.2 L582.8,560.7 M586.9,576.5 L586.9,562.0 M591.1,577.8 L591.0,563.3 M595.2,579.1 L595.2,571.8 M611.7,607.0 L578.2,598.5 M578.2,598.5 L577.4,584.0 M582.3,599.6 L581.5,585.1 M586.5,600.6 L585.7,586.2 M590.7,601.7 L589.9,587.2 M594.9,602.8 L594.5,595.5 M611.7,646.2 L577.9,638.7 M577.9,638.7 L576.7,624.2 M582.1,639.6 L580.9,625.2 M586.4,640.6 L585.2,626.1 M590.6,641.5 L589.4,627.1 M611.7,678.0 L577.6,672.2 M577.6,672.2 L575.7,657.8 M581.9,672.9 L579.9,658.5 M586.1,673.6 L584.2,659.2 M590.4,674.3 L589.4,667.2 M611.7,704.7 L578.7,694.1 M578.7,694.1 L578.9,679.6 M582.9,695.5 L583.0,681.0 M587.0,696.8 L587.0,689.5 M611.7,726.6 L578.2,717.9 M578.2,717.9 L577.5,703.4 M582.4,719.0 L581.7,704.5 M611.7,745.2 L579.6,732.4 M579.6,732.4 L580.7,717.9 M583.6,734.0 L584.1,726.8 M611.7,760.9 L583.9,740.3 M583.9,740.3 L588.7,726.6 M587.4,742.9 L589.8,736.0 M611.7,773.8 L593.7,744.3 M593.7,744.3 L603.2,733.4 M595.9,748.0 L600.7,742.5 M611.7,785.0 L596.4,754.0 M596.4,754.0 L606.9,744.0 M598.3,757.9 L603.5,752.9 M611.7,793.3 L585.4,770.8 M585.4,770.8 L591.1,757.5 M588.7,773.6 L594.4,760.3 M611.7,801.4 L579.8,788.0 M579.8,788.0 L581.2,773.6 M583.8,789.7 L585.2,775.2 M611.7,807.5 L582.6,788.8 M582.6,788.8 L586.4,774.8 M586.2,791.2 L590.0,777.2 M611.7,812.0 L606.6,777.8 M606.6,777.8 L619.6,771.5 M611.7,816.5 L604.9,782.6 M604.9,782.6 L617.6,775.6 M605.7,786.8 L612.1,783.3 M611.7,819.0 L608.5,784.6 M609.1,791.0 L615.8,788.2" stroke="#002152" stroke-width="1.7" fill="none" stroke-linecap="butt"/>
<path d="M580.0,160.4 L589.5,149.5 L587.9,163.9Z M579.7,214.2 L588.9,203.1 L587.7,217.5Z M578.9,269.9 L587.3,258.1 L587.1,272.6Z M579.2,321.3 L588.0,309.7 L587.3,324.2Z" stroke="#002152" stroke-width="1.5" fill="#002152" stroke-linejoin="miter"/>
<circle cx="551.4" cy="871.4" r="21.9" fill="#002152" stroke="#b8c0cc" stroke-width="1"/>
<path d="M551.4,850.4 V871.4 L543.9,883.7" stroke="#fff" stroke-width="1.2" fill="none"/>
<text x="431.0" y="20.6" font-size="25.75" text-anchor="middle" textLength="861.4" lengthAdjust="spacingAndGlyphs" fill="#002152">Rapid City NWS, SD; Model Run 2025-12-13 18 UTC; WRF Domain 02</text>
<text x="341.2" y="55.5" font-size="21.45" text-anchor="middle" textLength="436.3" lengthAdjust="spacingAndGlyphs" fill="#002152" xml:space="preserve">2025-12-15 02 UTC  (2025-12-14 19 MST)</text>
<text x="61.0" y="69.7" font-size="14.31" text-anchor="end" textLength="26.5" lengthAdjust="spacingAndGlyphs" fill="#002152">100</text>
<text x="61.0" y="307.8" font-size="14.31" text-anchor="end" textLength="26.5" lengthAdjust="spacingAndGlyphs" fill="#002152">200</text>
<text x="61.0" y="447.1" font-size="14.31" text-anchor="end" textLength="26.5" lengthAdjust="spacingAndGlyphs" fill="#002152">300</text>
<text x="61.0" y="545.9" font-size="14.31" text-anchor="end" textLength="26.5" lengthAdjust="spacingAndGlyphs" fill="#002152">400</text>
<text x="61.0" y="622.6" font-size="14.31" text-anchor="end" textLength="26.5" lengthAdjust="spacingAndGlyphs" fill="#002152">500</text>
<text x="61.0" y="685.2" font-size="14.31" text-anchor="end" textLength="26.5" lengthAdjust="spacingAndGlyphs" fill="#002152">600</text>
<text x="61.0" y="738.2" font-size="14.31" text-anchor="end" textLength="26.5" lengthAdjust="spacingAndGlyphs" fill="#002152">700</text>
<text x="61.0" y="784.0" font-size="14.31" text-anchor="end" textLength="26.5" lengthAdjust="spacingAndGlyphs" fill="#002152">800</text>
<text x="61.0" y="824.5" font-size="14.31" text-anchor="end" textLength="26.5" lengthAdjust="spacingAndGlyphs" fill="#002152">900</text>
<text x="61.0" y="860.7" font-size="14.31" text-anchor="end" textLength="35.4" lengthAdjust="spacingAndGlyphs" fill="#002152">1000</text>
<text x="119.9" y="893.0" font-size="14.31" text-anchor="middle" textLength="29.3" lengthAdjust="spacingAndGlyphs" fill="#002152">−20</text>
<text x="218.1" y="893.0" font-size="14.31" text-anchor="middle" textLength="29.3" lengthAdjust="spacingAndGlyphs" fill="#002152">−10</text>
<text x="316.3" y="893.0" font-size="14.31" text-anchor="middle" textLength="8.8" lengthAdjust="spacingAndGlyphs" fill="#002152">0</text>
<text x="414.4" y="893.0" font-size="14.31" text-anchor="middle" textLength="17.7" lengthAdjust="spacingAndGlyphs" fill="#002152">10</text>
<text x="512.6" y="893.0" font-size="14.31" text-anchor="middle" textLength="17.7" lengthAdjust="spacingAndGlyphs" fill="#002152">20</text>
<text x="610.8" y="893.0" font-size="14.31" text-anchor="middle" textLength="17.7" lengthAdjust="spacingAndGlyphs" fill="#002152">30</text>
<text x="341.5" y="912.0" font-size="14.31" text-anchor="middle" textLength="118.8" lengthAdjust="spacingAndGlyphs" fill="#002152">Temperature (℃)</text>
<text x="15.8" y="469.5" font-size="14.31" text-anchor="middle" textLength="145.0" lengthAdjust="spacingAndGlyphs" fill="#002152" transform="rotate(-90 15.8 469.5)">Isobaric Height (hPa)</text>
<text x="179.4" y="86.0" font-size="14.31" text-anchor="end" textLength="80.2" lengthAdjust="spacingAndGlyphs" fill="#002152">LCL Height:</text>
<text x="184.0" y="86.0" font-size="14.31" text-anchor="start" textLength="66.5" lengthAdjust="spacingAndGlyphs" fill="#002152">2148.0 m</text>
<text x="179.4" y="104.0" font-size="14.31" text-anchor="end" textLength="80.4" lengthAdjust="spacingAndGlyphs" fill="#002152">LFC Height:</text>
<text x="184.0" y="104.0" font-size="14.31" text-anchor="start" textLength="44.1" lengthAdjust="spacingAndGlyphs" fill="#002152">nan m</text>
<text x="179.4" y="122.0" font-size="14.31" text-anchor="end" textLength="41.4" lengthAdjust="spacingAndGlyphs" fill="#002152">MLLR:</text>
<text x="184.0" y="122.0" font-size="14.31" text-anchor="start" textLength="35.6" lengthAdjust="spacingAndGlyphs" fill="#002152">8.0 K</text>
<text x="179.4" y="140.0" font-size="14.31" text-anchor="end" textLength="59.1" lengthAdjust="spacingAndGlyphs" fill="#002152">SBCAPE:</text>
<text x="184.0" y="140.0" font-size="14.31" text-anchor="start" textLength="52.1" lengthAdjust="spacingAndGlyphs" fill="#002152">0.0 J/kg</text>
<text x="179.4" y="158.0" font-size="14.31" text-anchor="end" textLength="47.0" lengthAdjust="spacingAndGlyphs" fill="#002152">SBCIN:</text>
<text x="184.0" y="158.0" font-size="14.31" text-anchor="start" textLength="52.1" lengthAdjust="spacingAndGlyphs" fill="#002152">0.0 J/kg</text>
<text x="179.4" y="176.0" font-size="14.31" text-anchor="end" textLength="60.8" lengthAdjust="spacingAndGlyphs" fill="#002152">MLCAPE:</text>
<text x="184.0" y="176.0" font-size="14.31" text-anchor="start" textLength="52.1" lengthAdjust="spacingAndGlyphs" fill="#002152">0.0 J/kg</text>
<text x="179.4" y="194.0" font-size="14.31" text-anchor="end" textLength="48.6" lengthAdjust="spacingAndGlyphs" fill="#002152">MLCIN:</text>
<text x="184.0" y="194.0" font-size="14.31" text-anchor="start" textLength="52.1" lengthAdjust="spacingAndGlyphs" fill="#002152">0.0 J/kg</text>
<text x="179.4" y="212.0" font-size="14.31" text-anchor="end" textLength="63.2" lengthAdjust="spacingAndGlyphs" fill="#002152">MUCAPE:</text>
<text x="184.0" y="212.0" font-size="14.31" text-anchor="start" textLength="52.1" lengthAdjust="spacingAndGlyphs" fill="#002152">0.0 J/kg</text>
<text x="179.4" y="230.0" font-size="14.31" text-anchor="end" textLength="98.2" lengthAdjust="spacingAndGlyphs" fill="#002152">Shear 0-1 km:</text>
<text x="184.0" y="230.0" font-size="14.31" text-anchor="start" textLength="51.9" lengthAdjust="spacingAndGlyphs" fill="#002152">2.1 m/s</text>
<text x="179.4" y="248.0" font-size="14.31" text-anchor="end" textLength="98.2" lengthAdjust="spacingAndGlyphs" fill="#002152">Shear 0-6 km:</text>
<text x="184.0" y="248.0" font-size="14.31" text-anchor="start" textLength="60.8" lengthAdjust="spacingAndGlyphs" fill="#002152">18.6 m/s</text>
<text x="179.4" y="266.0" font-size="14.31" text-anchor="end" textLength="86.7" lengthAdjust="spacingAndGlyphs" fill="#002152">SRH 0-1 km:</text>
<text x="184.0" y="266.0" font-size="14.31" text-anchor="start" textLength="76.9" lengthAdjust="spacingAndGlyphs" fill="#002152">-67.6 m²/s²</text>
<text x="179.4" y="284.0" font-size="14.31" text-anchor="end" textLength="86.7" lengthAdjust="spacingAndGlyphs" fill="#002152">SRH 0-3 km:</text>
<text x="184.0" y="284.0" font-size="14.31" text-anchor="start" textLength="85.8" lengthAdjust="spacingAndGlyphs" fill="#002152">-123.4 m²/s²</text>
<text x="551.0" y="835.2" font-size="14.31" text-anchor="middle" textLength="60.7" lengthAdjust="spacingAndGlyphs" fill="#002152">Sun-MST</text>
<defs><clipPath id="hd"><rect x="697.5" y="82.0" width="188.5" height="189.0"/></clipPath></defs>
<g clip-path="url(#hd)">
<circle cx="791.2" cy="177.0" r="23.5" fill="none" stroke="#808080" stroke-width="1.4" stroke-dasharray="5.1,2.2"/>
<circle cx="791.2" cy="177.0" r="46.9" fill="none" stroke="#808080" stroke-width="1.4" stroke-dasharray="5.1,2.2"/>
<circle cx="791.2" cy="177.0" r="70.4" fill="none" stroke="#808080" stroke-width="1.4" stroke-dasharray="5.1,2.2"/>
<circle cx="791.2" cy="177.0" r="93.9" fill="none" stroke="#808080" stroke-width="1.4" stroke-dasharray="5.1,2.2"/>
<circle cx="791.2" cy="177.0" r="117.3" fill="none" stroke="#808080" stroke-width="1.4" stroke-dasharray="5.1,2.2"/>
<path d="M791.2,82.0 V271.0 M697.5,177.0 H886.0" stroke="#808080" stroke-width="2" stroke-dasharray="9.5,4" fill="none"/>
</g>
<path d="M793.3,198.7 L796.4,191.8" stroke="#000080" stroke-width="4.4" fill="none" stroke-linejoin="round"/>
<path d="M795.8,194.2 L805.7,192.5 L815.1,187.8" stroke="#0000ad" stroke-width="4.4" fill="none" stroke-linejoin="round"/>
<path d="M815.1,187.8 L805.7,191.7 L798.4,192.9" stroke="#0000d0" stroke-width="4.4" fill="none" stroke-linejoin="round"/>
<path d="M797.5,191.2 L805.7,186.5 L812.9,182.7" stroke="#0000ff" stroke-width="4.4" fill="none" stroke-linejoin="round"/>
<path d="M812.9,182.7 L815.5,184.4 L818.5,186.1" stroke="#0048ff" stroke-width="4.4" fill="none" stroke-linejoin="round"/>
<path d="M818.5,186.1 L822.3,186.1 L824.9,183.5" stroke="#0078ff" stroke-width="4.4" fill="none" stroke-linejoin="round"/>
<path d="M824.9,183.5 L827.9,182.9 L831.3,184.1" stroke="#00a8ff" stroke-width="4.4" fill="none" stroke-linejoin="round"/>
<path d="M831.3,184.1 L834.7,185.7 L838.2,186.9" stroke="#00d4ff" stroke-width="4.4" fill="none" stroke-linejoin="round"/>
<path d="M838.2,186.9 L841.6,188.1 L843.5,189.5" stroke="#36ffc0" stroke-width="4.4" fill="none" stroke-linejoin="round"/>
<path d="M843.5,189.5 L843.1,192.1 L841.2,194.0" stroke="#7dff7a" stroke-width="4.4" fill="none" stroke-linejoin="round"/>
<path d="M841.2,194.0 L838.2,195.5 L834.7,196.3" stroke="#b4ff43" stroke-width="4.4" fill="none" stroke-linejoin="round"/>
<path d="M834.7,196.3 L831.3,197.0 L828.8,197.3" stroke="#f1fc06" stroke-width="4.4" fill="none" stroke-linejoin="round"/>
<path d="M828.8,197.3 L824.5,197.8 L820.2,198.7" stroke="#ffb900" stroke-width="4.4" fill="none" stroke-linejoin="round"/>
<path d="M820.2,198.7 L818.5,199.8 L820.2,201.2" stroke="#ff6800" stroke-width="4.4" fill="none" stroke-linejoin="round"/>
<path d="M820.2,201.2 L824.5,201.9 L827.9,201.7" stroke="#ff3000" stroke-width="4.4" fill="none" stroke-linejoin="round"/>
<path d="M827.9,201.7 L831.3,201.3 L834.7,200.5" stroke="#e40000" stroke-width="4.4" fill="none" stroke-linejoin="round"/>
<path d="M834.7,200.5 L838.2,199.8 L841.8,198.9" stroke="#b20000" stroke-width="4.4" fill="none" stroke-linejoin="round"/>
<path d="M697.5,270.3 H865.6" stroke="#002152" stroke-width="3.2"/>
<path d="M697.5,81.5 V272.0 M697.0,271.5 H886.5" stroke="#002152" stroke-width="1" fill="none"/>
<text x="697.3" y="292.5" font-size="14.31" text-anchor="middle" textLength="29.3" lengthAdjust="spacingAndGlyphs" fill="#002152">−40</text>
<text x="687.6" y="276.1" font-size="14.31" text-anchor="end" textLength="29.3" lengthAdjust="spacingAndGlyphs" fill="#002152">−40</text>
<text x="744.3" y="292.5" font-size="14.31" text-anchor="middle" textLength="29.3" lengthAdjust="spacingAndGlyphs" fill="#002152">−20</text>
<text x="687.6" y="229.1" font-size="14.31" text-anchor="end" textLength="29.3" lengthAdjust="spacingAndGlyphs" fill="#002152">−20</text>
<text x="791.2" y="292.5" font-size="14.31" text-anchor="middle" textLength="8.8" lengthAdjust="spacingAndGlyphs" fill="#002152">0</text>
<text x="687.6" y="182.2" font-size="14.31" text-anchor="end" textLength="8.8" lengthAdjust="spacingAndGlyphs" fill="#002152">0</text>
<text x="838.1" y="292.5" font-size="14.31" text-anchor="middle" textLength="17.7" lengthAdjust="spacingAndGlyphs" fill="#002152">20</text>
<text x="687.6" y="135.3" font-size="14.31" text-anchor="end" textLength="17.7" lengthAdjust="spacingAndGlyphs" fill="#002152">20</text>
<text x="885.1" y="292.5" font-size="14.31" text-anchor="middle" textLength="17.7" lengthAdjust="spacingAndGlyphs" fill="#002152">40</text>
<text x="687.6" y="88.3" font-size="14.31" text-anchor="end" textLength="17.7" lengthAdjust="spacingAndGlyphs" fill="#002152">40</text>
<path d="M697.5,272.0 v4.9 M697.0,270.5 h-4.9 M744.5,272.0 v4.9 M697.0,223.5 h-4.9 M791.5,272.0 v4.9 M697.0,176.5 h-4.9 M838.5,272.0 v4.9 M697.0,130.5 h-4.9 M885.5,272.0 v4.9 M697.0,83.5 h-4.9" stroke="#002152" stroke-width="1" fill="none"/>
<g fill="#002152"><text x="759.7" y="307.0" font-size="13.89" textLength="43.8" lengthAdjust="spacingAndGlyphs">u (m s</text><text x="803.5" y="301.7" font-size="9.72" textLength="14.3" lengthAdjust="spacingAndGlyphs">−1</text><text x="817.9" y="307.0" font-size="13.89" textLength="5.4" lengthAdjust="spacingAndGlyphs">)</text></g>
<g transform="rotate(-90 653.5 177.0)" fill="#002152"><text x="622.0" y="177.0" font-size="13.89" textLength="43.2" lengthAdjust="spacingAndGlyphs">v (m s</text><text x="665.2" y="171.7" font-size="9.72" textLength="14.3" lengthAdjust="spacingAndGlyphs">−1</text><text x="679.6" y="177.0" font-size="13.89" textLength="5.4" lengthAdjust="spacingAndGlyphs">)</text></g>
<rect x="656.5" y="312.5" width="270.0" height="12.5" fill="url(#jet)" stroke="#002152" stroke-width="1"/>
<text x="656.5" y="346.0" font-size="14.31" text-anchor="middle" textLength="8.8" lengthAdjust="spacingAndGlyphs" fill="#002152">0</text>
<text x="710.5" y="346.0" font-size="14.31" text-anchor="middle" textLength="8.8" lengthAdjust="spacingAndGlyphs" fill="#002152">2</text>
<text x="764.5" y="346.0" font-size="14.31" text-anchor="middle" textLength="8.8" lengthAdjust="spacingAndGlyphs" fill="#002152">4</text>
<text x="818.5" y="346.0" font-size="14.31" text-anchor="middle" textLength="8.8" lengthAdjust="spacingAndGlyphs" fill="#002152">6</text>
<text x="872.5" y="346.0" font-size="14.31" text-anchor="middle" textLength="8.8" lengthAdjust="spacingAndGlyphs" fill="#002152">8</text>
<text x="926.5" y="346.0" font-size="14.31" text-anchor="middle" textLength="17.7" lengthAdjust="spacingAndGlyphs" fill="#002152">10</text>
<path d="M656.5,325.0 v5 M710.5,325.0 v5 M764.5,325.0 v5 M818.5,325.0 v5 M872.5,325.0 v5 M926.5,325.0 v5" stroke="#002152" stroke-width="1" fill="none"/>
<text x="791.5" y="365.5" font-size="14.31" text-anchor="middle" textLength="114.9" lengthAdjust="spacingAndGlyphs" fill="#002152">Height (km AGL)</text>
</svg>
</body></html>
